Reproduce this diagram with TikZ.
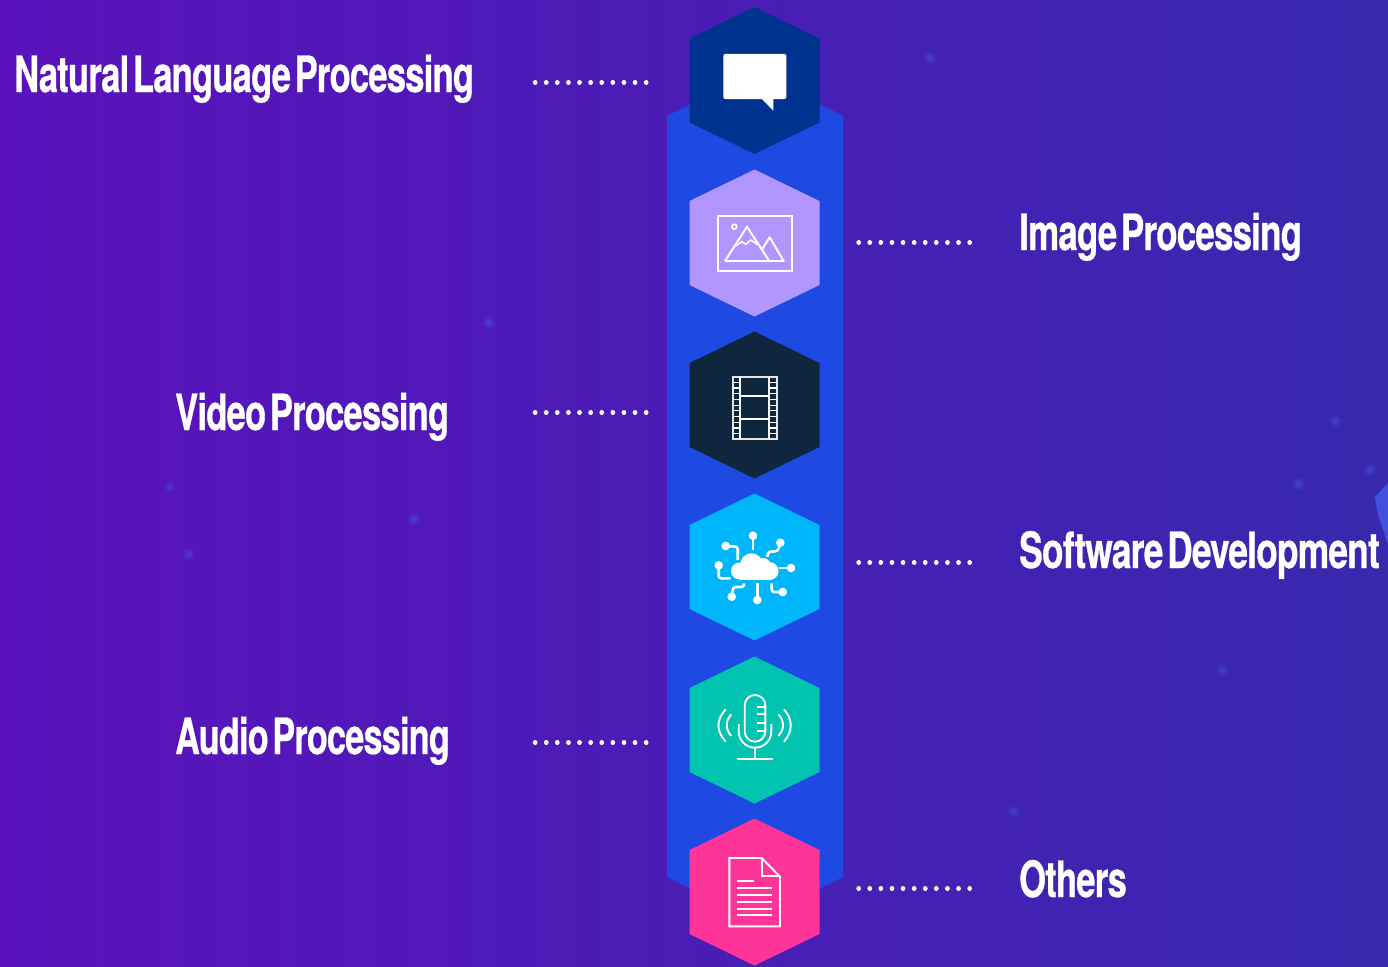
\documentclass[tikz,border=0pt]{standalone}
\usepackage{graphicx}
\usepackage{fontspec}
\setmainfont[FakeStretch=0.69,LetterSpace=-1.5,WordSpace=0.42,FakeBold=0.6]{TeX Gyre Heros Bold}
\definecolor{bgL}{RGB}{91,18,188}
\definecolor{bgR}{RGB}{56,40,174}
\definecolor{band}{RGB}{31,73,227}
\definecolor{hexA}{RGB}{0,50,143}
\definecolor{hexB}{RGB}{178,150,255}
\definecolor{hexC}{RGB}{14,39,62}
\definecolor{hexD}{RGB}{0,182,250}
\definecolor{hexE}{RGB}{0,195,176}
\definecolor{hexF}{RGB}{255,52,153}
\definecolor{glow}{RGB}{70,90,235}
\tikzset{
  x=1pt,y=-1pt,
  heading/.style={anchor=base west,inner sep=0pt,text=white,font=\fontsize{50}{50}\selectfont},
  leader/.style={white,line width=4.4pt,line cap=round,dash pattern=on 0.3pt off 10.8pt},
  iconline/.style={white,line width=1.9pt,line join=miter},
  thinline/.style={white,line width=1.6pt},
  circuit/.style={white,line width=2.6pt,rounded corners=2.5pt},
}
\newcommand{\hexat}[3]{%
  \fill[#3] (#1,#2-73.5) -- (#1+65,#2-42) -- (#1+65,#2+42) -- (#1,#2+73.5) -- (#1-65,#2+42) -- (#1-65,#2-42) -- cycle;
  \coordinate (#3c) at (#1,#2);}
\begin{document}
\begin{tikzpicture}
\useasboundingbox (0,0) rectangle (1388,966);
\fill[left color=bgL,right color=bgR] (0,0) rectangle (1388,966);
% faint background glows
\foreach \gx/\gy/\gr in {489/323/3.5,414/519/3.5,189/554/3,1298/484/3.5,1335/421/3,1222/670/3,1014/811/3,930/58/3,170/487/2.5,1370/470/3}{
  \fill[glow,opacity=0.18] (\gx,\gy) circle (\gr+3);
  \fill[glow,opacity=0.35] (\gx,\gy) circle (\gr);
}
\fill[glow,opacity=0.8] (1388,483) -- (1375,497) -- (1378,515) -- (1388,545) -- cycle;
% band
\fill[band] (667,116) -- (755,72) -- (843,116) -- (843,877) -- (755,921) -- (667,877) -- cycle;
% hexagons
\hexat{754.5}{80.5}{hexA}
\hexat{754.5}{243}{hexB}
\hexat{754.5}{405}{hexC}
\hexat{754.5}{567}{hexD}
\hexat{754.5}{730}{hexE}
\hexat{754.5}{892}{hexF}
% labels
\node[heading] (nlp) at (14,92) {Natural Language Processing};
\node[heading] (img) at (1019,250) {\scalebox{1.01}[1]{Image Processing}};
\node[heading] (vid) at (175,430) {Video Processing};
\node[heading] (sw) at (1019,568) {\scalebox{1.022}[1]{Software Development}};
\node[heading] (aud) at (175,754) {\scalebox{0.99}[1]{Audio Processing}};
\node[heading] (oth) at (1019,897) {Others};
% leaders
\coordinate (l1a) at (535,82.5);  \coordinate (l1b) at (647,82.5);
\coordinate (l2a) at (858.5,242.5); \coordinate (l2b) at (970.5,242.5);
\coordinate (l3a) at (535,412.5); \coordinate (l3b) at (647,412.5);
\coordinate (l4a) at (858.5,562.5); \coordinate (l4b) at (970.5,562.5);
\coordinate (l5a) at (535,742.5); \coordinate (l5b) at (647,742.5);
\coordinate (l6a) at (858.5,888.5); \coordinate (l6b) at (970.5,888.5);
\foreach \n in {1,...,6} \draw[leader] (l\n a) -- (l\n b);
% speech bubble
\fill[white,rounded corners=2pt] (723.3,54) rectangle (786.3,99);
\fill[white] (761,98) -- (773.3,110.7) -- (773.3,98) -- cycle;
% image icon
\draw[iconline] (718.3,215.7) rectangle (791.7,271.3);
\draw[thinline] (734.3,226.7) circle (2.4);
\draw[iconline,line join=round] (725,261) -- (747,226.7) -- (769.3,261);
\draw[iconline,line join=round] (762.7,248.3) -- (769.7,237.3) -- (783.7,261) -- (725,261);
\draw[thinline] (736,245.7) -- (741.7,241.7) -- (746,244.3) -- (750.7,240) -- (760,246);
% film icon
\draw[iconline,white!90!black] (732.7,376.7) rectangle (776.7,439.3);
\draw[iconline] (740,376.7) -- (740,439.3) (769.3,376.7) -- (769.3,439.3) (740,396.3) -- (769.3,396.3) (740,419.3) -- (769.3,419.3);
\foreach \i in {1,...,10} {
  \draw[white,line width=1.3pt] (732.7,376.7+5.69*\i) -- (740,376.7+5.69*\i);
  \draw[white,line width=1.3pt] (769.3,376.7+5.69*\i) -- (776.7,376.7+5.69*\i);
}
% cloud icon
\fill[white] (739.5,571) circle (8.5) (769.5,571) circle (9) (751.5,564.5) circle (11.2) (763,566) circle (8);
\fill[white] (739.5,566) rectangle (769.5,579.6);
\foreach \cx/\cy in {753/535.7,725.7/546,718.7/565.3,780.3/542.7,791/568,782.7/592,757.3/600,731.7/596.7}
  \fill[white] (\cx,\cy) circle (4.3);
\draw[circuit] (753,535.7) -- (753,550);
\draw[circuit] (725.7,546) -- (737.7,546.7) -- (737.7,560);
\draw[circuit] (718.7,565.3) -- (718.7,578.3) -- (730.7,578.3);
\draw[circuit] (780.3,542.7) -- (778,551) -- (768,552) -- (767.3,557);
\draw[circuit] (791,568) -- (779.3,568);
\draw[circuit] (782.7,592) -- (771.7,592) -- (771.7,583.3);
\draw[circuit] (757.3,600) -- (757.3,583.3);
\draw[circuit] (731.7,596.7) -- (733.3,587) -- (744,587) -- (744,583.3);
% microphone icon
\draw[iconline] (744.7,705.3) arc[start angle=180,end angle=360,radius=10.3] -- (765.3,731.4) arc[start angle=0,end angle=180,radius=10.3] -- cycle;
\foreach \ty in {706.7,714.3,722.7,730.7} \draw[iconline] (757.3,\ty) -- (765.3,\ty);
\draw[iconline] (738.7,724) -- (738.7,731.4) arc[start angle=180,end angle=0,radius=16.3] -- (771.3,724);
\draw[iconline] (755,747.7) -- (755,759);
\draw[iconline] (737,759) -- (772.7,759);
\draw[iconline] (725.7,709.3) .. controls (716,720) and (716,731) .. (725.7,741.7);
\draw[iconline] (731.3,714.3) .. controls (725.2,721) and (725.2,729) .. (731.3,736);
\draw[iconline] (778.3,714.3) .. controls (784.6,721) and (784.6,729) .. (778.3,736);
\draw[iconline] (784,709.3) .. controls (793,720) and (793,731) .. (784,741.7);
% document icon
\draw[iconline] (761.7,858) -- (729.3,858) -- (729.3,926.3) -- (780,926.3) -- (780,876.7) -- cycle;
\draw[iconline] (761.7,858) -- (761.7,876.3) -- (780,876.3);
\draw[iconline] (737,880.7) -- (754,880.7);
\foreach \ty in {888,895,902,908.7,915} \draw[iconline] (737,\ty) -- (772,\ty);
\end{tikzpicture}
\end{document}
